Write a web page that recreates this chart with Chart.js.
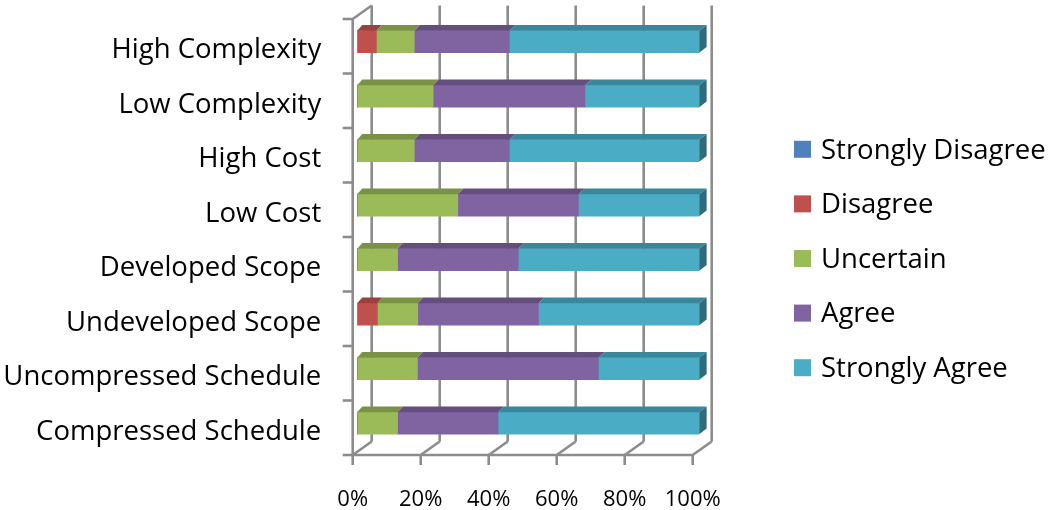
<!DOCTYPE html>
<html>
<head>
<meta charset="utf-8">
<title>Survey responses by project condition</title>
<script src="https://cdn.jsdelivr.net/npm/chart.js@4.4.1/dist/chart.umd.min.js"></script>
<style>
  html, body { margin: 0; padding: 0; background: #ffffff; }
  #wrap { width: 1050px; height: 510px; }
</style>
</head>
<body>
<div id="wrap"><canvas id="chart" width="1050" height="510"></canvas></div>
<script>
// Project conditions (top to bottom)
const categories = [
  'High Complexity',
  'Low Complexity',
  'High Cost',
  'Low Cost',
  'Developed Scope',
  'Undeveloped Scope',
  'Uncompressed Schedule',
  'Compressed Schedule'
];

// Share of responses per condition, in percent
const stronglyDisagree = [0, 0, 0, 0, 0, 0, 0, 0];
const disagree         = [5.6, 0, 0, 0, 0, 5.9, 0, 0];
const uncertain        = [11.1, 22.2, 16.7, 29.4, 11.8, 11.8, 17.6, 11.8];
const agree            = [27.8, 44.4, 27.8, 35.3, 35.3, 35.3, 52.9, 29.4];
const stronglyAgree    = [55.5, 33.4, 55.5, 35.3, 52.9, 47.0, 29.5, 58.8];

const seriesNames = ['Strongly Disagree', 'Disagree', 'Uncertain', 'Agree', 'Strongly Agree'];
const xTicks = [0, 20, 40, 60, 80, 100];

// Front, top and side shades for each response
const frontColors = ['#4F81BD', '#C0504D', '#9BBB59', '#8064A2', '#4BACC6'];
const topColors   = ['#3E6594', '#9A403E', '#799245', '#644E7E', '#3A869A'];
const sideColors  = ['#30507A', '#7A3230', '#5F7336', '#4F3E64', '#2E6B7B'];

const FONT = "'Open Sans', 'Noto Sans', sans-serif";
const WALL = { dx: 19, dy: -13.5 };   // depth of the back wall
const BAR_SHIFT = { dx: 4.5, dy: -4.6, sx: 342 / 340 };

function strokeLine(ctx, x1, y1, x2, y2) {
  ctx.beginPath();
  ctx.moveTo(x1, y1);
  ctx.lineTo(x2, y2);
  ctx.stroke();
}

// Draws the 3D floor, back wall and axis, then shifts the bars into depth
const frame3d = {
  id: 'frame3d',
  beforeDatasetsDraw(chart) {
    const { ctx, chartArea: a, scales: { x } } = chart;
    ctx.save();
    ctx.strokeStyle = '#8c8c8c';
    ctx.lineWidth = 2.6;
    xTicks.forEach(v => {
      const px = x.getPixelForValue(v);
      strokeLine(ctx, px + WALL.dx, a.top + WALL.dy, px + WALL.dx, a.bottom + WALL.dy);
      strokeLine(ctx, px + WALL.dx, a.bottom + WALL.dy, px, a.bottom);
      strokeLine(ctx, px, a.bottom, px, a.bottom + 10);
    });
    strokeLine(ctx, a.left, a.bottom, a.right, a.bottom);
    strokeLine(ctx, a.left, a.top, a.left, a.bottom);
    strokeLine(ctx, a.left, a.top, a.left + WALL.dx, a.top + WALL.dy);
    const n = categories.length;
    for (let i = 0; i <= n; i++) {
      const yb = a.top + i * a.height / n;
      strokeLine(ctx, a.left - 10, yb, a.left, yb);
    }
    ctx.restore();

    ctx.save();
    ctx.translate(a.left + BAR_SHIFT.dx, BAR_SHIFT.dy);
    ctx.scale(BAR_SHIFT.sx, 1);
    ctx.translate(-a.left, 0);
  },
  afterDatasetsDraw(chart) {
    const { ctx } = chart;
    const depthX = px => 5 + 2.4 * (px - chart.chartArea.left) / chart.chartArea.width;
    const depthY = -5.7;
    const metas = chart.data.datasets.map((d, i) => chart.getDatasetMeta(i));
    categories.forEach((c, ci) => {
      let last = -1;
      metas.forEach((m, di) => {
        if (chart.data.datasets[di].data[ci] > 0) last = di;
      });
      metas.forEach((m, di) => {
        if (!(chart.data.datasets[di].data[ci] > 0)) return;
        const el = m.data[ci];
        const { x, y, base, height } = el.getProps(['x', 'y', 'base', 'height'], true);
        const top = y - height / 2, bot = y + height / 2;
        ctx.fillStyle = topColors[di];
        ctx.beginPath();
        ctx.moveTo(base, top);
        ctx.lineTo(x, top);
        ctx.lineTo(x + depthX(x), top + depthY);
        ctx.lineTo(base + depthX(base), top + depthY);
        ctx.closePath();
        ctx.fill();
        if (di === last) {
          ctx.fillStyle = sideColors[di];
          ctx.beginPath();
          ctx.moveTo(x, top);
          ctx.lineTo(x + depthX(x), top + depthY);
          ctx.lineTo(x + depthX(x), bot + depthY);
          ctx.lineTo(x, bot);
          ctx.closePath();
          ctx.fill();
        }
      });
    });
    ctx.restore();
  }
};

// Legend at the right, one row per response
const sideLegend = {
  id: 'sideLegend',
  afterDraw(chart) {
    const { ctx } = chart;
    ctx.save();
    ctx.font = '27.5px ' + FONT;
    ctx.textBaseline = 'middle';
    ctx.textAlign = 'left';
    chart.data.datasets.forEach((ds, i) => {
      const cy = 149.3 + i * 54.6;
      ctx.fillStyle = ds.backgroundColor;
      ctx.fillRect(794, cy - 8.5, 17, 17);
      ctx.fillStyle = '#000000';
      ctx.fillText(ds.label, 821, cy + 1.5);
    });
    ctx.restore();
  }
};

const seriesValues = [stronglyDisagree, disagree, uncertain, agree, stronglyAgree];

new Chart(document.getElementById('chart'), {
  type: 'bar',
  data: {
    labels: categories,
    datasets: seriesNames.map((name, i) => ({
      label: name,
      data: seriesValues[i],
      backgroundColor: frontColors[i],
      borderWidth: 0,
      barThickness: 22
    }))
  },
  options: {
    indexAxis: 'y',
    responsive: false,
    animation: false,
    devicePixelRatio: 1,
    layout: { padding: { left: 0, top: 19, right: 357.3, bottom: 0 } },
    plugins: {
      legend: { display: false },
      tooltip: { enabled: false }
    },
    scales: {
      x: {
        stacked: true,
        min: 0,
        max: 100,
        afterBuildTicks(scale) { scale.ticks = xTicks.map(v => ({ value: v })); },
        afterFit(scale) {
          scale.height = 55;
          scale.paddingLeft = 0;
          scale.paddingRight = 0;
        },
        grid: { display: false, drawTicks: false },
        border: { display: false },
        ticks: {
          padding: 32,
          color: '#000000',
          font: { family: FONT, size: 22 },
          callback: v => v + '%'
        }
      },
      y: {
        stacked: true,
        afterFit(scale) {
          scale.width = 352.7;
          scale.paddingTop = 0;
          scale.paddingBottom = 0;
        },
        grid: { display: false, drawTicks: false },
        border: { display: false },
        ticks: {
          padding: 31.5,
          labelOffset: 4,
          color: '#000000',
          font: { family: FONT, size: 27.5 }
        }
      }
    }
  },
  plugins: [frame3d, sideLegend]
});
</script>
</body>
</html>
